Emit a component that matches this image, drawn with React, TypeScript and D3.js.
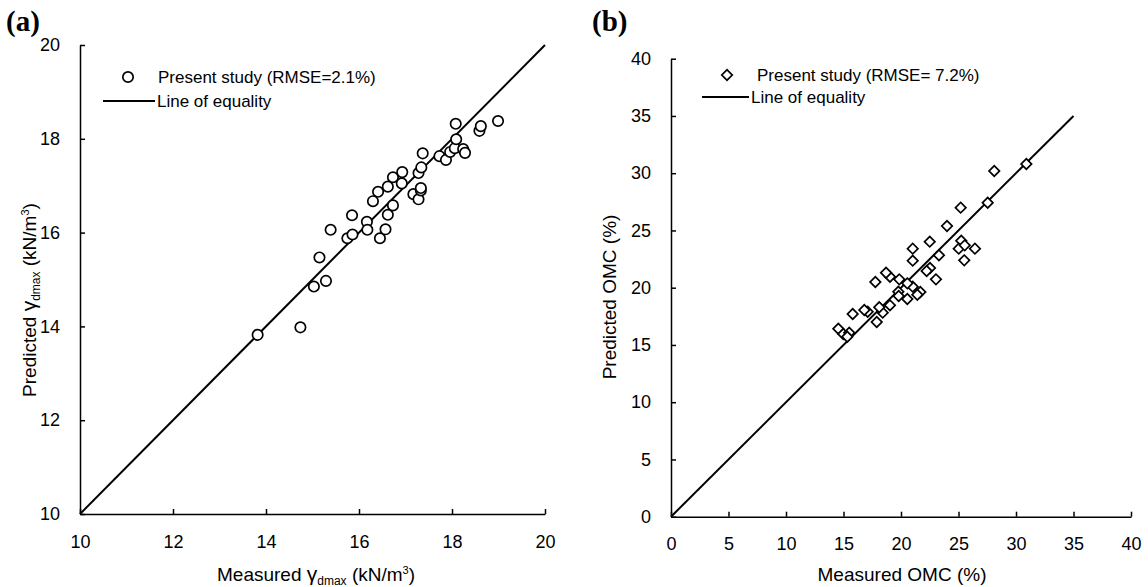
import React, { useEffect, useRef } from 'react';
import * as d3 from 'd3';

// panel (a): maximum dry unit weight, kN/m3
const gammaMeasured = [13.82, 14.74, 15.03, 15.29, 15.15, 15.39, 15.75, 15.86, 15.85, 16.17, 16.18, 16.3, 16.41, 16.45, 16.57, 16.62, 16.73, 16.62, 16.73, 16.92, 16.93, 17.17, 17.28, 17.33, 17.33, 17.28, 17.34, 17.37, 17.73, 17.87, 17.96, 18.06, 18.09, 18.24, 18.28, 18.08, 18.59, 18.62, 18.99];
const gammaPredicted = [13.82, 13.98, 14.85, 14.97, 15.47, 16.06, 15.88, 15.96, 16.37, 16.23, 16.06, 16.67, 16.87, 15.88, 16.07, 16.38, 16.58, 16.98, 17.18, 17.05, 17.29, 16.82, 16.71, 16.9, 16.95, 17.27, 17.39, 17.69, 17.63, 17.55, 17.72, 17.8, 17.99, 17.78, 17.7, 18.32, 18.17, 18.27, 18.38];
const gammaTicks = [10, 12, 14, 16, 18, 20];
const gammaEquality = [10, 20];

// panel (b): optimum moisture content, %
const omcMeasured = [28.11, 27.54, 25.19, 24.0, 22.5, 21.02, 21.02, 23.3, 25.24, 25.02, 25.54, 26.43, 25.5, 22.52, 22.23, 23.04, 21.68, 21.42, 21.02, 20.55, 20.55, 19.85, 19.04, 18.7, 17.77, 19.77, 19.8, 19.04, 18.41, 18.11, 17.89, 17.1, 16.81, 15.8, 14.55, 14.98, 15.5, 15.33, 30.9];
const omcPredicted = [30.19, 27.42, 26.99, 25.39, 24.02, 23.41, 22.36, 22.83, 24.1, 23.41, 23.7, 23.41, 22.39, 21.72, 21.46, 20.73, 19.62, 19.39, 20.09, 20.38, 19.01, 20.73, 20.96, 21.31, 20.5, 19.65, 19.28, 18.46, 17.82, 18.29, 17.0, 17.9, 18.05, 17.7, 16.42, 15.96, 16.07, 15.72, 30.8];
const omcTicks = [0, 5, 10, 15, 20, 25, 30, 35, 40];
const omcEquality = [0, 35];

const FONT = '"Liberation Sans", Arial, sans-serif';

function drawPanel(svg, p) {
  const x = d3.scaleLinear().domain(p.domain).range([p.left, p.right]);
  const y = d3.scaleLinear().domain(p.domain).range([p.bottom, p.top]);

  const xAxis = svg.append('g')
    .attr('transform', `translate(0,${p.bottom})`)
    .call(d3.axisBottom(x).tickValues(p.ticks).tickSizeInner(-5).tickSizeOuter(0).tickPadding(21).tickFormat(d3.format('d')));
  const yAxis = svg.append('g')
    .attr('transform', `translate(${p.left},0)`)
    .call(d3.axisLeft(y).tickValues(p.ticks).tickSizeInner(-5).tickSizeOuter(0).tickPadding(20).tickFormat(d3.format('d')));
  [xAxis, yAxis].forEach(a => {
    a.attr('font-family', FONT).attr('font-size', 18);
    a.selectAll('path, line').attr('stroke', '#000').attr('stroke-width', 1.5);
    a.selectAll('text').attr('fill', '#000');
  });

  // line of equality
  const eq = p.equality.map(v => [v, v]);
  svg.append('path')
    .datum(eq)
    .attr('d', d3.line().x(d => x(d[0])).y(d => y(d[1])))
    .attr('stroke', '#000').attr('stroke-width', 2).attr('fill', 'none');

  const pts = p.xs.map((v, i) => [v, p.ys[i]]);
  if (p.marker === 'circle') {
    svg.append('g').selectAll('circle').data(pts).join('circle')
      .attr('cx', d => x(d[0])).attr('cy', d => y(d[1])).attr('r', 5.2)
      .attr('fill', '#fff').attr('stroke', '#000').attr('stroke-width', 1.7);
  } else {
    const sym = d3.symbol(d3.symbolSquare, 55);
    svg.append('g').selectAll('path').data(pts).join('path')
      .attr('d', sym)
      .attr('transform', d => `translate(${x(d[0])},${y(d[1])}) rotate(45)`)
      .attr('fill', '#fff').attr('stroke', '#000').attr('stroke-width', 1.7);
  }
}

function App() {
  const svgRef = useRef(null);

  useEffect(() => {
    const svg = d3.select(svgRef.current);
    svg.selectAll('*').remove();

    drawPanel(svg, {
      domain: [10, 20], ticks: gammaTicks, equality: gammaEquality,
      xs: gammaMeasured, ys: gammaPredicted, marker: 'circle',
      left: 80, right: 545, top: 45, bottom: 514,
    });
    drawPanel(svg, {
      domain: [0, 40], ticks: omcTicks, equality: omcEquality,
      xs: omcMeasured, ys: omcPredicted, marker: 'diamond',
      left: 671, right: 1131, top: 58.7, bottom: 516.7,
    });

    const txt = (x, y, s, size = 17) => svg.append('text')
      .attr('x', x).attr('y', y).attr('font-family', FONT).attr('font-size', size).attr('fill', '#000').text(s);

    // panel labels
    svg.append('text').attr('x', 6).attr('y', 31).attr('font-family', '"Liberation Serif", "Times New Roman", serif')
      .attr('font-weight', 'bold').attr('font-size', 29).text('(a)');
    svg.append('text').attr('x', 592).attr('y', 31).attr('font-family', '"Liberation Serif", "Times New Roman", serif')
      .attr('font-weight', 'bold').attr('font-size', 29).text('(b)');

    // legends
    svg.append('circle').attr('cx', 128).attr('cy', 77).attr('r', 5.2)
      .attr('fill', '#fff').attr('stroke', '#000').attr('stroke-width', 1.7);
    txt(158, 83, 'Present study (RMSE=2.1%)');
    svg.append('line').attr('x1', 103).attr('x2', 155).attr('y1', 101).attr('y2', 101).attr('stroke', '#000').attr('stroke-width', 2);
    txt(157, 107, 'Line of equality');

    svg.append('path').attr('d', d3.symbol(d3.symbolSquare, 55)).attr('transform', 'translate(727,75) rotate(45)')
      .attr('fill', '#fff').attr('stroke', '#000').attr('stroke-width', 1.7);
    txt(757, 81, 'Present study (RMSE= 7.2%)');
    svg.append('line').attr('x1', 702).attr('x2', 749).attr('y1', 97).attr('y2', 97).attr('stroke', '#000').attr('stroke-width', 2);
    txt(751, 103, 'Line of equality');

    // axis titles
    const gammaTitle = (sel, prefix) => {
      sel.append('tspan').text(prefix);
      sel.append('tspan').attr('font-size', 21).text('γ');
      sel.append('tspan').attr('font-size', 12).attr('dy', 4).text('dmax');
      sel.append('tspan').attr('dy', -4).text(' (kN/m');
      sel.append('tspan').attr('font-size', 11).attr('dy', -7).text('3');
      sel.append('tspan').attr('dy', 7).text(')');
    };
    const xa = svg.append('text').attr('x', 316).attr('y', 581).attr('text-anchor', 'middle')
      .attr('font-family', FONT).attr('font-size', 19).attr('fill', '#000');
    gammaTitle(xa, 'Measured ');
    const ya = svg.append('text').attr('transform', 'translate(36,300) rotate(-90)').attr('text-anchor', 'middle')
      .attr('font-family', FONT).attr('font-size', 19).attr('fill', '#000');
    gammaTitle(ya, 'Predicted ');

    svg.append('text').attr('x', 902).attr('y', 581).attr('text-anchor', 'middle')
      .attr('font-family', FONT).attr('font-size', 19).attr('fill', '#000').text('Measured OMC (%)');
    svg.append('text').attr('transform', 'translate(616,297) rotate(-90)').attr('text-anchor', 'middle')
      .attr('font-family', FONT).attr('font-size', 19).attr('fill', '#000').text('Predicted OMC (%)');
  }, []);

  return (
    <svg ref={svgRef} width={1148} height={587}
      style={{ position: 'absolute', left: 0, top: 0, background: '#fff' }} />
  );
}

export default App;
